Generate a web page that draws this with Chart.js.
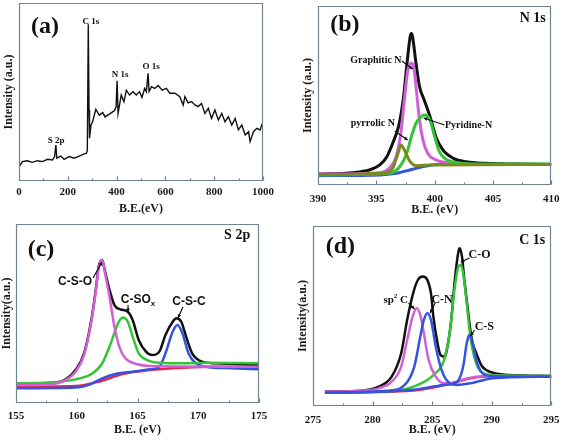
<!DOCTYPE html>
<html lang="en">
<head>
<meta charset="UTF-8">
<title>XPS spectra</title>
<script src="https://cdn.jsdelivr.net/npm/chart.js"></script>
<style>
  body { margin: 0; background: #fff; }
  #wrap { position: relative; width: 567px; height: 444px; background: #fff; }
  canvas { position: absolute; }
</style>
</head>
<body>
<div id="wrap">
  <canvas id="pa" width="283" height="220" style="left:0;top:0"></canvas>
  <canvas id="pb" width="284" height="220" style="left:283px;top:0"></canvas>
  <canvas id="pc" width="283" height="224" style="left:0;top:220px"></canvas>
  <canvas id="pd" width="284" height="224" style="left:283px;top:220px"></canvas>
</div>
<script>
// (a) survey spectrum
const surveyE = [0, 14, 34, 55, 75, 96, 117, 137, 146, 151, 155, 171, 185, 206, 226, 247, 267, 276, 280, 284, 287, 289, 295, 301, 315, 329, 343, 353, 370, 391, 398, 402, 406, 419, 430, 440, 453, 467, 481, 494, 504, 515, 522, 529, 533, 543, 556, 570, 587, 604, 618, 639, 659, 673, 680, 693, 707, 721, 734, 748, 762, 776, 789, 803, 817, 831, 844, 858, 872, 886, 899, 913, 927, 941, 947, 961, 975, 988, 1000];
const surveyI = [8, 10.9, 11.4, 10.5, 11.4, 10.9, 12.2, 11.8, 13.7, 20.2, 12.8, 14, 12.2, 13.7, 12.8, 14, 15.2, 15.5, 17, 88, 40, 24, 31.5, 33, 40.3, 37, 38.4, 36, 37.6, 39.5, 41.7, 56.3, 38, 48.3, 44.6, 51, 48.3, 50.2, 48.3, 50.2, 47, 52, 50.2, 60.5, 50.2, 53, 52, 53.6, 51, 52, 49.3, 49.3, 47.4, 42.7, 47.4, 43.9, 44.6, 42.7, 41.8, 43.6, 38, 40.8, 35.2, 39.9, 34.3, 38, 33.3, 36.1, 31.4, 35.2, 28.7, 31.4, 25.8, 27.7, 22.1, 27.7, 29.6, 28.7, 33.3];

// (b) N 1s
const n1sEnvE = [390, 393, 394.4, 395.3, 395.9, 396.4, 396.9, 397.3, 397.6, 397.9, 398.0, 398.1, 398.4, 398.7, 399.1, 399.6, 400.1, 400.7, 401.6, 402.7, 404.4, 406.7, 410];
const n1sEnvI = [6.1, 6.9, 8.4, 11.2, 15.8, 23.3, 32.6, 47.5, 66.1, 82.9, 84.7, 82.9, 68, 55, 47.5, 38.2, 27, 19.6, 14.9, 13, 12.1, 11.7, 11.5];
const graphiticE = [390, 395.3, 396.1, 396.7, 397.1, 397.4, 397.7, 398.0, 398.2, 398.4, 398.7, 399.0, 399.4, 400.1, 401.6, 403.9, 410];
const graphiticI = [6.1, 6.9, 9.3, 15.8, 28.9, 47.5, 64.2, 68, 66.1, 55, 36.3, 25.1, 17.7, 14, 12.1, 11.5, 11.5];
const pyridineE = [390, 396.1, 397.0, 397.6, 398.0, 398.4, 398.9, 399.1, 399.6, 400.0, 400.4, 401.0, 401.9, 403.9, 410];
const pyridineI = [5.6, 6.5, 10.2, 17.7, 27, 34.5, 38.5, 39.1, 36.3, 27, 18.6, 14.3, 12.5, 11.7, 11.7];
const pyrrolicE = [390, 395.9, 396.4, 396.9, 397.1, 397.4, 397.9, 398.4, 399.6, 410];
const pyrrolicI = [5.8, 6.9, 9.3, 18.6, 22.3, 19.6, 13, 10.8, 11.2, 11.5];
const n1sBaseE = [390, 395.3, 396.7, 398.1, 399.3, 400.4, 410];
const n1sBaseI = [5.2, 5.6, 6.5, 8.8, 10.6, 11.4, 11.5];

// (c) S 2p
const s2pEnvE = [155, 157.7, 159.1, 159.9, 160.6, 161.2, 161.6, 161.8, 162.1, 162.3, 162.7, 163.1, 163.6, 164.2, 164.6, 165.1, 165.7, 166.2, 166.8, 167.3, 167.9, 168.2, 168.6, 169.0, 169.5, 170.3, 171.4, 175];
const s2pEnvI = [10.6, 11, 13.2, 18.4, 27.7, 46.4, 65, 76.2, 79.9, 74.3, 63.1, 54.7, 52.3, 51, 46.4, 35.2, 28.7, 26.8, 28.7, 38, 45.4, 47.3, 45.4, 37.1, 27.7, 23.1, 22.2, 21.2];
const csoE = [155, 157.7, 159.1, 159.9, 160.6, 161.2, 161.6, 161.8, 162.1, 162.3, 162.7, 163.1, 163.5, 164.0, 164.9, 166.0, 175];
const csoI = [10.1, 10.4, 12.8, 17.5, 26.8, 45.4, 64.1, 75.2, 79.9, 73.4, 59.4, 42.6, 31.5, 25, 21.8, 20.7, 20.3];
const csoxE = [155, 157.7, 159.9, 161.3, 162.1, 162.8, 163.4, 163.8, 164.2, 164.6, 165.1, 165.8, 166.8, 168.7, 170.6, 175];
const csoxI = [11, 11.4, 13.2, 16.6, 22.2, 33.3, 44.5, 47.7, 45.4, 37.1, 27.7, 24, 22.5, 22.2, 22.5, 22.2];
const cscE = [155, 159.9, 161.0, 162.1, 163.2, 164.6, 166.0, 166.8, 167.3, 167.9, 168.3, 168.7, 169.2, 169.8, 170.6, 172.8, 175];
const cscI = [8.2, 8.6, 10.1, 13.8, 16.2, 17.5, 18.8, 20.3, 27.7, 39.9, 43.6, 38.9, 27.7, 22.2, 20.3, 19.4, 18.8];
const s2pBaseE = [155, 159.9, 161.8, 163.8, 166.0, 168.7, 171.4, 175];
const s2pBaseI = [9.1, 9.5, 11.9, 16.2, 18.4, 19.7, 20.3, 19.9];

// (d) C 1s
const c1sEnvE = [276, 279.1, 280.5, 281.6, 282.4, 282.9, 283.4, 283.8, 284.2, 284.6, 284.9, 285.1, 285.4, 285.7, 286.0, 286.2, 286.6, 286.9, 287.2, 287.3, 287.5, 287.7, 288.0, 288.2, 288.4, 288.7, 289.2, 290.1, 291.4, 295];
const c1sEnvI = [8, 8.5, 10.7, 16.3, 29.3, 47.8, 62.6, 70, 71.9, 70, 62.6, 49.6, 36.7, 28.3, 27.4, 30.2, 47.8, 70, 85.7, 87.6, 83, 70, 53.3, 42.2, 34.8, 29.3, 21.9, 18.5, 17.2, 16.7];
const sp2E = [276, 279.1, 280.5, 281.6, 282.4, 282.9, 283.4, 283.7, 284.0, 284.3, 284.7, 285.3, 286.0, 286.8, 287.6, 288.7, 290.1, 295];
const sp2I = [8, 8.5, 9.8, 13.5, 21.9, 36.7, 50.6, 54.3, 50.6, 40.4, 25.6, 16.3, 12.6, 12.6, 14.8, 16.3, 16.7, 16.3];
const cnE = [276, 281.3, 282.7, 283.5, 284.0, 284.3, 284.6, 284.9, 285.3, 285.7, 286.2, 287.1, 288.2, 290.1, 295];
const cnI = [7.4, 8.5, 11.7, 21.9, 38.5, 47.8, 51.5, 47.8, 33, 21.9, 14.4, 11.7, 12.6, 15.4, 16.3];
const csE = [276, 283.2, 286.0, 287.1, 287.6, 287.9, 288.1, 288.4, 288.7, 289.1, 289.8, 295];
const csI = [7.4, 8.9, 11.7, 13.5, 21.9, 34.8, 39.4, 34.8, 25.6, 19.1, 16.7, 16.3];
const coE = [276, 280.5, 282.4, 283.8, 285.1, 286.0, 286.5, 286.9, 287.2, 287.4, 287.6, 287.9, 288.2, 288.6, 289.1, 290.1, 295];
const coI = [7.4, 8, 8.9, 11.7, 17.2, 25.6, 42.2, 66.3, 77.4, 78.3, 73.7, 57, 38.5, 25.6, 19.1, 17.2, 16.7];
const c1sBaseE = [276, 283.2, 285.4, 287.1, 288.7, 291.4, 295];
const c1sBaseI = [7.4, 8.5, 10.7, 13.5, 15.9, 16.7, 16.3];

const SERIF = '"Liberation Serif", "Times New Roman", serif';
const SANS = '"Liberation Sans", Arial, sans-serif';
const BLACK = '#111', MAG = '#d35fd8', GREEN = '#35c435', BLUE = '#3553dc', OLIVE = '#7b8a1c', RED = '#e6264c';

function pts(xs, ys) {
  return xs.map((x, i) => ({ x: x, y: ys[i] }));
}

// draws "sp^2 C" / "C-SO_x" style labels centred at (cx, cy)
function richText(ctx, str, cx, cy, font, size) {
  const segs = [];
  for (let i = 0; i < str.length; i++) {
    const ch = str[i];
    if ((ch === '^' || ch === '_') && i + 1 < str.length) {
      segs.push({ t: str[i + 1], mode: ch });
      i++;
    } else {
      segs.push({ t: ch, mode: '' });
    }
  }
  const w = segs.map(s => {
    ctx.font = 'bold ' + (s.mode ? size * 0.65 : size) + 'px ' + font;
    return ctx.measureText(s.t).width;
  });
  let x = cx - w.reduce((a, b) => a + b, 0) / 2;
  ctx.textBaseline = 'middle';
  ctx.textAlign = 'left';
  segs.forEach((s, i) => {
    ctx.font = 'bold ' + (s.mode ? size * 0.65 : size) + 'px ' + font;
    const dy = s.mode === '^' ? -size * 0.35 : s.mode === '_' ? size * 0.3 : 0;
    ctx.fillText(s.t, x, cy + dy);
    x += w[i];
  });
}

function arrow(ctx, x1, y1, x2, y2) {
  ctx.beginPath();
  ctx.moveTo(x1, y1);
  ctx.lineTo(x2, y2);
  ctx.stroke();
  const a = Math.atan2(y2 - y1, x2 - x1), h = 4;
  ctx.beginPath();
  ctx.moveTo(x2, y2);
  ctx.lineTo(x2 - h * Math.cos(a - 0.5), y2 - h * Math.sin(a - 0.5));
  ctx.lineTo(x2 - h * Math.cos(a + 0.5), y2 - h * Math.sin(a + 0.5));
  ctx.closePath();
  ctx.fill();
}

function decor(cfg) {
  return {
    id: 'decor',
    afterDraw(chart) {
      const ctx = chart.ctx, area = chart.chartArea;
      const xs = chart.scales.x, ys = chart.scales.y;
      const L = Math.round(area.left) + 0.5, R = Math.round(area.right) - 0.5;
      const T = Math.round(area.top) + 0.5, B = Math.round(area.bottom) - 0.5;
      ctx.save();
      ctx.globalAlpha = 1;
      ctx.setLineDash([]);
      // frame and inward ticks along the bottom
      ctx.strokeStyle = '#6f8394';
      ctx.lineWidth = 1.2;
      ctx.beginPath();
      ctx.moveTo(L, T);
      ctx.lineTo(R, T);
      ctx.lineTo(R, B);
      ctx.lineTo(L, B);
      ctx.closePath();
      const n = Math.round((cfg.xMax - cfg.xMin) / cfg.step) * 2;
      for (let k = 0; k <= n; k++) {
        const v = cfg.xMin + k * cfg.step / 2;
        const px = Math.round(xs.getPixelForValue(v)) + 0.5;
        ctx.moveTo(px, B);
        ctx.lineTo(px, B - (k % 2 === 0 ? 4 : 2));
      }
      ctx.stroke();
      // labels and arrows
      ctx.fillStyle = '#111';
      ctx.strokeStyle = '#111';
      ctx.lineWidth = 1.2;
      cfg.notes.forEach(note => {
        const cx = xs.getPixelForValue(note.x), cy = ys.getPixelForValue(note.y);
        richText(ctx, note.text, cx, cy, note.font || SERIF, note.size);
        if (note.arrow) {
          arrow(ctx, xs.getPixelForValue(note.arrow[0]), ys.getPixelForValue(note.arrow[1]),
                xs.getPixelForValue(note.arrow[2]), ys.getPixelForValue(note.arrow[3]));
        }
      });
      ctx.restore();
    }
  };
}

function panel(id, cfg) {
  const bold = (size) => ({ family: SERIF, weight: 'bold', size: size });
  return new Chart(document.getElementById(id), {
    type: 'line',
    data: {
      datasets: cfg.series.map(s => ({
        data: pts(s[0], s[1]),
        borderColor: s[2],
        borderWidth: cfg.lw,
        pointRadius: 0,
        fill: false,
        tension: cfg.smooth ? 0.4 : 0,
        cubicInterpolationMode: cfg.smooth ? 'monotone' : 'default'
      }))
    },
    options: {
      responsive: false,
      animation: false,
      devicePixelRatio: 1,
      events: [],
      layout: { autoPadding: false, padding: cfg.pad },
      plugins: { legend: { display: false }, tooltip: { enabled: false } },
      scales: {
        x: {
          type: 'linear', min: cfg.xMin, max: cfg.xMax,
          border: { display: false }, grid: { display: false, drawTicks: false },
          ticks: { stepSize: cfg.step, padding: cfg.tickPad, maxRotation: 0, color: '#1a1a1a', font: bold(11),
                   callback: v => String(v) },
          title: { display: true, text: cfg.xTitle, color: '#1a1a1a', font: bold(12), padding: { top: 0, bottom: cfg.xTitlePad } },
          afterFit: s => { s.height = cfg.xh; }
        },
        y: {
          min: 0, max: 100,
          border: { display: false }, grid: { display: false, drawTicks: false },
          ticks: { display: false },
          title: { display: true, text: cfg.yTitle, color: '#1a1a1a', font: bold(12), padding: { top: cfg.yTitlePad, bottom: 0 } },
          afterFit: s => { s.width = cfg.yw; }
        }
      }
    },
    plugins: [decor(cfg)]
  });
}

panel('pa', {
  xMin: 0, xMax: 1000, step: 200, lw: 1.4, smooth: false,
  pad: { left: 0, top: 3, right: 20, bottom: 0 }, yw: 19, xh: 39,
  tickPad: 4.5, xTitle: 'B.E.(eV)', xTitlePad: 3.5, yTitle: 'Intensity (a.u.)', yTitlePad: 1.5,
  series: [[surveyE, surveyI, BLACK]],
  notes: [
    { text: '(a)', x: 107, y: 86.5, size: 24 },
    { text: 'C 1s', x: 295, y: 89.3, size: 9 },
    { text: 'N 1s', x: 414, y: 59.6, size: 9 },
    { text: 'O 1s', x: 541, y: 64, size: 9 },
    { text: 'S 2p', x: 152, y: 22.5, size: 9 }
  ]
});

panel('pb', {
  xMin: 390, xMax: 410, step: 5, lw: 3, smooth: true,
  pad: { left: 0, top: 6, right: 15, bottom: 0 }, yw: 35, xh: 35,
  tickPad: 7.4, xTitle: 'B.E. (eV)', xTitlePad: 2.8, yTitle: 'Intensity (a.u.)', yTitlePad: 18,
  series: [
    [pyrrolicE, pyrrolicI, OLIVE],
    [pyridineE, pyridineI, GREEN],
    [graphiticE, graphiticI, MAG],
    [n1sBaseE, n1sBaseI, BLUE],
    [n1sEnvE, n1sEnvI, BLACK]
  ],
  notes: [
    { text: '(b)', x: 392.3, y: 89.4, size: 24 },
    { text: 'N 1s', x: 408.4, y: 93.3, size: 14 },
    { text: 'Graphitic N', x: 394.96, y: 69.8, size: 10, arrow: [397.18, 69.3, 398.12, 64.8] },
    { text: 'pyrrolic N', x: 394.7, y: 34.6, size: 10, arrow: [396.58, 30.2, 397.69, 25.1] },
    { text: 'Pyridine-N', x: 402.9, y: 33.5, size: 10, arrow: [400.85, 33.5, 399.06, 37.4] }
  ]
});

panel('pc', {
  xMin: 155, xMax: 175, step: 5, lw: 2.5, smooth: true,
  pad: { left: 0, top: 4, right: 24, bottom: 0 }, yw: 16, xh: 41,
  tickPad: 6.4, xTitle: 'B.E. (eV)', xTitlePad: 6.8, yTitle: 'Intensity(a.u.)', yTitlePad: 0,
  series: [
    [csoE, csoI, MAG],
    [csoxE, csoxI, GREEN],
    [cscE, cscI, BLUE],
    [s2pBaseE, s2pBaseI, RED],
    [s2pEnvE, s2pEnvI, BLACK]
  ],
  notes: [
    { text: '(c)', x: 157.06, y: 85.5, size: 24 },
    { text: 'S 2p', x: 173.2, y: 93.9, size: 14 },
    { text: 'C-S-O', x: 159.86, y: 67.6, size: 12, font: SANS, arrow: [161.34, 69.8, 162.08, 78.8] },
    { text: 'C-SO_x', x: 165.04, y: 57.5, size: 12, font: SANS, arrow: [164.22, 54.7, 164.22, 50.8] },
    { text: 'C-S-C', x: 169.24, y: 56.4, size: 12, font: SANS, arrow: [168.74, 53.6, 168.33, 47.5] }
  ]
});

panel('pd', {
  xMin: 275, xMax: 295, step: 5, lw: 2.5, smooth: true,
  pad: { left: 0, top: 6, right: 12, bottom: 0 }, yw: 30, xh: 38,
  tickPad: 7.4, xTitle: 'B.E. (eV)', xTitlePad: 6.8, yTitle: 'Intensity(a.u.)', yTitlePad: 12.8,
  series: [
    [cnE, cnI, BLUE],
    [csE, csI, BLUE],
    [sp2E, sp2I, MAG],
    [coE, coI, GREEN],
    [c1sBaseE, c1sBaseI, RED],
    [c1sEnvE, c1sEnvI, BLACK]
  ],
  notes: [
    { text: '(d)', x: 277.3, y: 88.3, size: 24 },
    { text: 'C 1s', x: 293.4, y: 92.2, size: 14 },
    { text: 'sp^2 C', x: 281.94, y: 58.9, size: 11, arrow: [283.02, 57.2, 283.51, 53.9] },
    { text: 'C-N', x: 285.83, y: 58.9, size: 12, arrow: [285.25, 57.2, 284.83, 51.7] },
    { text: 'C-O', x: 288.97, y: 83.9, size: 12, arrow: [288.14, 82.2, 287.4, 80] },
    { text: 'C-S', x: 289.38, y: 43.9, size: 12, arrow: [288.55, 42.2, 288.22, 38.9] }
  ]
});
</script>
</body>
</html>
